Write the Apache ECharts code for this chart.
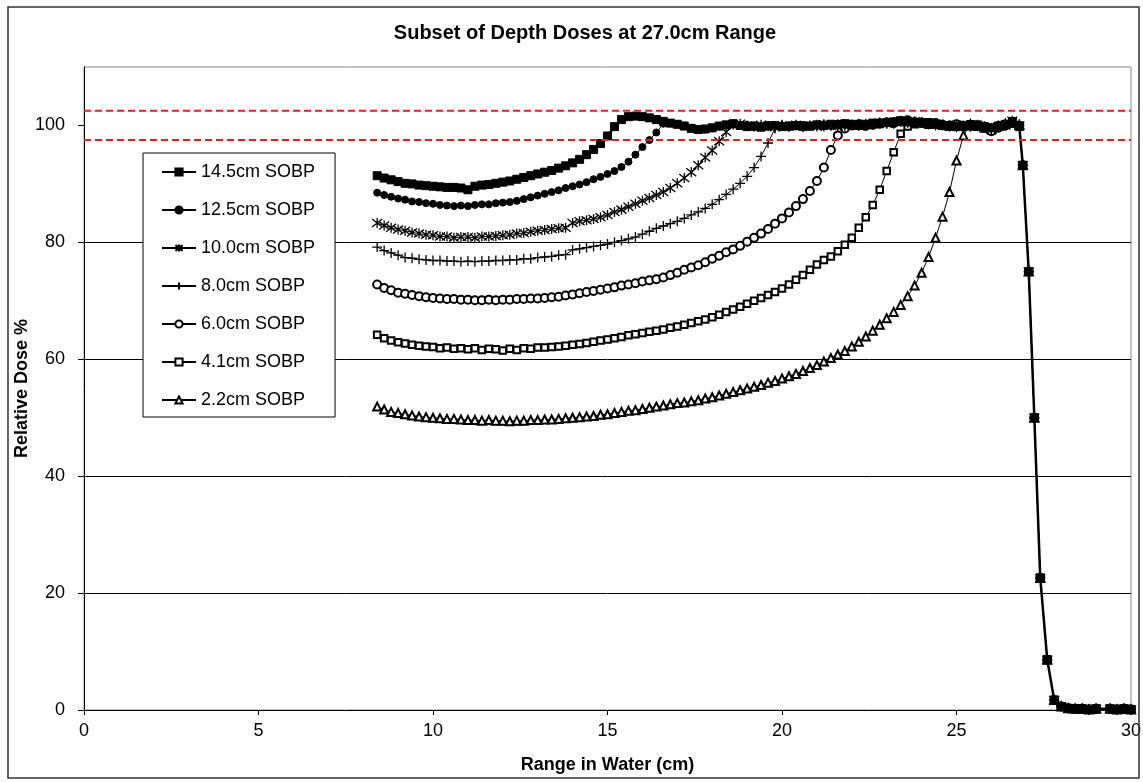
<!DOCTYPE html>
<html>
<head>
<meta charset="utf-8">
<script src="https://cdn.jsdelivr.net/npm/echarts@6/dist/echarts.min.js"></script>
<style>
html,body{margin:0;padding:0;background:#fff;}
#chart{width:1143px;height:782px;}
</style>
</head>
<body>
<div id="chart"></div>
<script>
// Depth positions (cm) of the measured points before the distal fall-off
const depth = [
  8.4, 8.6, 8.8, 9.0, 9.2, 9.4, 9.6, 9.8, 10.0, 10.2,
  10.4, 10.6, 10.8, 11.0, 11.2, 11.4, 11.6, 11.8, 12.0, 12.2,
  12.4, 12.6, 12.8, 13.0, 13.2, 13.4, 13.6, 13.8, 14.0, 14.2,
  14.4, 14.6, 14.8, 15.0, 15.2, 15.4, 15.6, 15.8, 16.0, 16.2,
  16.4, 16.6, 16.8, 17.0, 17.2, 17.4, 17.6, 17.8, 18.0, 18.2,
  18.4, 18.6, 18.8, 19.0, 19.2, 19.4, 19.6, 19.8, 20.0, 20.2,
  20.4, 20.6, 20.8, 21.0, 21.2, 21.4, 21.6, 21.8, 22.0, 22.2,
  22.4, 22.6, 22.8, 23.0, 23.2, 23.4, 23.6, 23.8, 24.0, 24.2,
  24.4, 24.6, 24.8, 25.0, 25.2, 25.4, 25.6, 25.8, 26.0, 26.2,
  26.4, 26.6, 26.8
];

// Shared distal fall-off (all SOBPs have the same 27.0 cm range)
const falloffDepth = [26.9, 27.07, 27.23, 27.4, 27.6, 27.8, 28.0, 28.2, 28.4, 28.6, 28.8, 29.0, 29.4, 29.6, 29.8, 30.0];
const falloffDose  = [93.2, 75.0, 50.0, 22.6, 8.6, 1.7, 0.6, 0.3, 0.2, 0.2, 0.1, 0.2, 0.2, 0.1, 0.2, 0.1];

const dose145 = [
  91.4, 91.0, 90.7, 90.4, 90.1, 90.0, 89.8, 89.7, 89.6, 89.5,
  89.4, 89.4, 89.3, 89.0, 89.6, 89.8, 89.9, 90.1, 90.3, 90.5,
  90.8, 91.1, 91.4, 91.7, 92.0, 92.3, 92.7, 93.1, 93.6, 94.2,
  95.0, 95.9, 96.9, 98.2, 99.8, 101.0, 101.5, 101.6, 101.5, 101.3,
  101.0, 100.7, 100.4, 100.2, 99.9, 99.5, 99.3, 99.4, 99.6, 99.9,
  100.1, 100.3, 100.0, 99.8, 99.9, 99.7, 99.9, 100.0, 99.8, 99.9,
  100.0, 99.8, 99.9, 100.1, 100.0, 100.2, 100.1, 100.3, 100.2, 100.0,
  100.2, 100.4, 100.3, 100.5, 100.6, 100.8, 100.6, 100.5, 100.4, 100.5,
  100.2, 100.0, 99.9, 99.8, 100.0, 99.9, 100.1, 99.8, 99.6, 99.9,
  100.2, 100.5, 99.8
];
const dose125 = [
  88.5, 88.1, 87.8, 87.5, 87.3, 87.0, 86.9, 86.7, 86.6, 86.4,
  86.3, 86.2, 86.3, 86.2, 86.4, 86.5, 86.5, 86.7, 86.8, 86.9,
  87.1, 87.4, 87.7, 88.0, 88.3, 88.6, 88.9, 89.3, 89.6, 89.9,
  90.3, 90.8, 91.2, 91.7, 92.2, 92.9, 93.8, 95.0, 96.3, 97.5,
  98.8, 100.3, 100.4, 100.2, 100.0, 99.6, 99.4, 99.3, 99.5, 99.8,
  100.0, 100.2, 99.9, 100.1, 99.7, 99.9, 100.1, 99.8, 100.0, 99.7,
  99.9, 100.1, 99.8, 100.0, 100.2, 99.9, 100.3, 100.1, 99.9, 100.2,
  100.1, 100.3, 100.6, 100.4, 100.7, 100.5, 100.9, 100.6, 100.3, 100.4,
  100.1, 99.9, 100.2, 99.8, 99.9, 100.1, 99.7, 100.0, 99.5, 100.1,
  99.8, 100.3, 100.1
];
const dose100 = [
  83.3, 82.9, 82.5, 82.2, 82.0, 81.7, 81.5, 81.3, 81.2, 81.0,
  81.0, 80.8, 80.9, 80.9, 80.8, 81.0, 81.0, 81.1, 81.2, 81.3,
  81.5, 81.6, 81.8, 82.0, 82.1, 82.3, 82.4, 82.5, 83.3, 83.6,
  83.8, 84.0, 84.3, 84.7, 85.2, 85.6, 86.1, 86.6, 87.1, 87.6,
  88.1, 88.6, 89.3, 90.1, 91.0, 92.0, 93.2, 94.5, 95.7, 97.3,
  98.9, 100.1, 100.3, 100.0, 99.8, 100.1, 99.9, 99.7, 100.0, 99.8,
  100.1, 99.9, 100.0, 99.8, 100.2, 100.0, 99.9, 100.2, 100.1, 99.9,
  100.3, 100.2, 100.5, 100.3, 100.6, 100.8, 100.5, 100.7, 100.4, 100.2,
  100.3, 100.0, 99.8, 100.1, 99.9, 99.8, 100.0, 99.7, 99.3, 99.8,
  100.0, 100.8, 100.0
];
const dose80 = [
  79.2, 78.6, 78.2, 77.8, 77.4, 77.3, 77.1, 77.0, 76.9, 76.9,
  76.8, 76.8, 76.7, 76.8, 76.7, 76.8, 76.8, 76.9, 76.9, 77.0,
  77.0, 77.2, 77.2, 77.4, 77.5, 77.6, 77.8, 77.9, 78.7, 78.9,
  79.1, 79.3, 79.5, 79.7, 80.0, 80.3, 80.6, 80.9, 81.4, 81.9,
  82.4, 82.8, 83.2, 83.6, 84.1, 84.7, 85.2, 85.8, 86.5, 87.3,
  88.2, 89.1, 90.1, 91.3, 92.8, 94.7, 97.0, 99.5, 100.1, 99.8,
  100.0, 99.7, 99.9, 100.1, 99.8, 100.0, 100.2, 99.9, 100.1, 100.3,
  100.0, 100.2, 100.4, 100.6, 100.3, 100.7, 100.5, 100.4, 100.6, 100.3,
  100.0, 100.2, 99.9, 99.7, 100.0, 99.8, 99.9, 99.6, 99.2, 99.7,
  100.1, 100.6, 100.2
];
const dose60 = [
  72.8, 72.2, 71.8, 71.4, 71.2, 71.0, 70.8, 70.6, 70.5, 70.4,
  70.3, 70.3, 70.2, 70.2, 70.1, 70.1, 70.2, 70.1, 70.2, 70.2,
  70.3, 70.3, 70.4, 70.4, 70.5, 70.6, 70.7, 70.9, 71.1, 71.3,
  71.5, 71.7, 71.9, 72.1, 72.3, 72.6, 72.8, 73.0, 73.3, 73.5,
  73.7, 74.0, 74.4, 74.8, 75.3, 75.7, 76.1, 76.6, 77.2, 77.7,
  78.3, 78.8, 79.4, 80.1, 80.8, 81.5, 82.3, 83.2, 84.1, 85.1,
  86.2, 87.4, 88.8, 90.5, 92.8, 95.8, 98.3, 99.5, 100.0, 100.2,
  99.9, 100.1, 100.3, 100.5, 100.4, 100.7, 100.9, 100.6, 100.5, 100.2,
  100.4, 100.1, 99.9, 100.2, 99.8, 100.0, 99.9, 99.6, 99.0, 99.6,
  100.0, 100.4, 99.9
];
const dose41 = [
  64.2, 63.6, 63.2, 62.9, 62.7, 62.5, 62.3, 62.2, 62.1, 61.9,
  62.0, 61.8, 61.9, 61.7, 61.9, 61.6, 61.8, 61.7, 61.5, 61.8,
  61.6, 61.9, 61.8, 62.0, 62.0, 62.1, 62.2, 62.3, 62.5, 62.6,
  62.8, 63.0, 63.2, 63.4, 63.6, 63.8, 64.1, 64.3, 64.5, 64.7,
  64.9, 65.1, 65.4, 65.6, 65.9, 66.2, 66.5, 66.8, 67.2, 67.6,
  68.1, 68.5, 69.0, 69.5, 70.0, 70.5, 71.0, 71.5, 72.1, 72.8,
  73.6, 74.4, 75.3, 76.2, 77.0, 77.6, 78.5, 79.6, 80.8, 82.5,
  84.3, 86.4, 89.0, 92.2, 95.4, 98.6, 99.8, 100.2, 100.4, 100.1,
  100.3, 100.0, 99.8, 100.1, 99.9, 100.2, 99.8, 99.5, 99.1, 99.8,
  100.2, 100.7, 100.0
];
const dose22 = [
  51.9, 51.4, 51.0, 50.8, 50.6, 50.4, 50.2, 50.1, 50.0, 49.9,
  49.8, 49.8, 49.7, 49.6, 49.6, 49.5, 49.6, 49.5, 49.5, 49.4,
  49.5, 49.5, 49.6, 49.6, 49.7, 49.7, 49.8, 49.9, 50.0, 50.1,
  50.2, 50.3, 50.5, 50.6, 50.8, 51.0, 51.2, 51.3, 51.5, 51.7,
  51.9, 52.1, 52.3, 52.5, 52.6, 52.8, 53.0, 53.3, 53.5, 53.8,
  54.1, 54.4, 54.7, 55.0, 55.3, 55.6, 56.0, 56.3, 56.7, 57.1,
  57.5, 58.0, 58.5, 59.0, 59.6, 60.2, 60.8, 61.4, 62.2, 63.0,
  63.9, 64.9, 65.9, 67.0, 68.1, 69.3, 70.8, 72.6, 74.8, 77.5,
  80.8, 84.4, 88.6, 94.0, 98.3, 100.2, 100.0, 99.7, 99.4, 99.9,
  100.3, 100.6, 100.1
];

const seriesNames = ['14.5cm SOBP', '12.5cm SOBP', '10.0cm SOBP', '8.0cm SOBP', '6.0cm SOBP', '4.1cm SOBP', '2.2cm SOBP'];
const seriesDoses = [dose145, dose125, dose100, dose80, dose60, dose41, dose22];
const toleranceLines = [102.5, 97.5];
const yTicks = [0, 20, 40, 60, 80, 100];

const FONT = 'Liberation Sans, Arial, sans-serif';
const ASTERISK = 'path://M5,0L5,10M1,1L9,9M9,1L1,9';
const PLUS = 'path://M0,5L10,5M5,0L5,10';

const looks = [
  { symbol: 'rect', size: 8, lw: 2.5, bw: 1 },
  { symbol: 'circle', size: 7, lw: 1, bw: 1 },
  { symbol: ASTERISK, size: 10, lw: 1, bw: 1.3 },
  { symbol: PLUS, size: 10, lw: 1, bw: 1.3 },
  { symbol: 'emptyCircle', size: 8, lw: 1, bw: 1 },
  { symbol: 'emptyRect', size: 6.5, lw: 1, bw: 1 },
  { symbol: 'emptyTriangle', size: 8, lw: 1, bw: 1 }
];

function buildPoints(doses) {
  const pts = depth.map((d, i) => [d, doses[i]]);
  falloffDepth.forEach((d, i) => pts.push([d, falloffDose[i]]));
  return pts;
}

const series = seriesNames.map((name, i) => ({
  name: name,
  type: 'line',
  data: buildPoints(seriesDoses[i]),
  symbol: looks[i].symbol,
  symbolSize: looks[i].size,
  showAllSymbol: true,
  clip: true,
  lineStyle: { color: '#000', width: looks[i].lw },
  itemStyle: { color: '#000', borderColor: '#000', borderWidth: looks[i].bw },
  emphasis: { disabled: true },
  z: 3 + (6 - i)
}));

toleranceLines.forEach(v => {
  series.push({
    name: 'tol' + v,
    type: 'line',
    data: [[0, v], [30, v]],
    symbol: 'none',
    silent: true,
    lineStyle: { color: '#ee1c1c', width: 2, type: [7, 4] },
    z: 20
  });
});

const chart = echarts.init(document.getElementById('chart'), null, { renderer: 'canvas' });
chart.setOption({
  animation: false,
  backgroundColor: '#fff',
  textStyle: { fontFamily: FONT, color: '#000' },
  title: {
    text: 'Subset of Depth Doses at 27.0cm Range',
    left: 580,
    top: 18,
    textAlign: 'center',
    textStyle: { fontFamily: FONT, fontSize: 20, fontWeight: 'bold', color: '#000' }
  },
  legend: {
    data: seriesNames,
    orient: 'vertical',
    left: 143,
    top: 153,
    padding: [9, 20, 7, 18],
    itemGap: 18,
    itemWidth: 34,
    itemHeight: 9,
    borderColor: '#000',
    borderWidth: 1,
    backgroundColor: '#fff',
    selectedMode: false,
    textStyle: { fontFamily: FONT, fontSize: 18, color: '#000', lineHeight: 20 }
  },
  grid: {
    left: 84, right: 12, top: 67, bottom: 72,
    show: true,
    borderColor: '#888',
    borderWidth: 1,
    backgroundColor: 'transparent',
    outerBoundsMode: 'none'
  },
  xAxis: {
    type: 'value',
    min: 0, max: 30, interval: 5,
    name: 'Range in Water (cm)',
    nameLocation: 'middle',
    nameGap: 46,
    nameMoveOverlap: false,
    nameTextStyle: { fontFamily: FONT, fontSize: 18, fontWeight: 'bold', color: '#000' },
    axisLine: { show: true, onZero: false, lineStyle: { color: '#000', width: 1 } },
    axisTick: { show: true, length: 5, lineStyle: { color: '#000' } },
    axisLabel: { fontFamily: FONT, fontSize: 18, color: '#000', margin: 12 },
    splitLine: { show: false }
  },
  yAxis: {
    type: 'value',
    min: 0, max: 110, interval: 20,
    name: 'Relative Dose %',
    nameLocation: 'middle',
    nameGap: 53,
    nameMoveOverlap: false,
    nameTextStyle: { fontFamily: FONT, fontSize: 18, fontWeight: 'bold', color: '#000' },
    axisLine: { show: true, onZero: false, lineStyle: { color: '#000', width: 1 } },
    axisTick: { show: true, length: 6, lineStyle: { color: '#000' }, customValues: yTicks },
    axisLabel: { fontFamily: FONT, fontSize: 18, color: '#000', margin: 19, showMaxLabel: false },
    splitLine: { show: true, showMinLine: false, showMaxLine: false, lineStyle: { color: '#000', width: 1 } }
  },
  graphic: [{
    type: 'rect',
    silent: true,
    z: 100,
    shape: { x: 8, y: 7, width: 1131, height: 771 },
    style: { fill: 'none', stroke: '#333', lineWidth: 1.5 }
  }],
  series: series
});
</script>
</body>
</html>
